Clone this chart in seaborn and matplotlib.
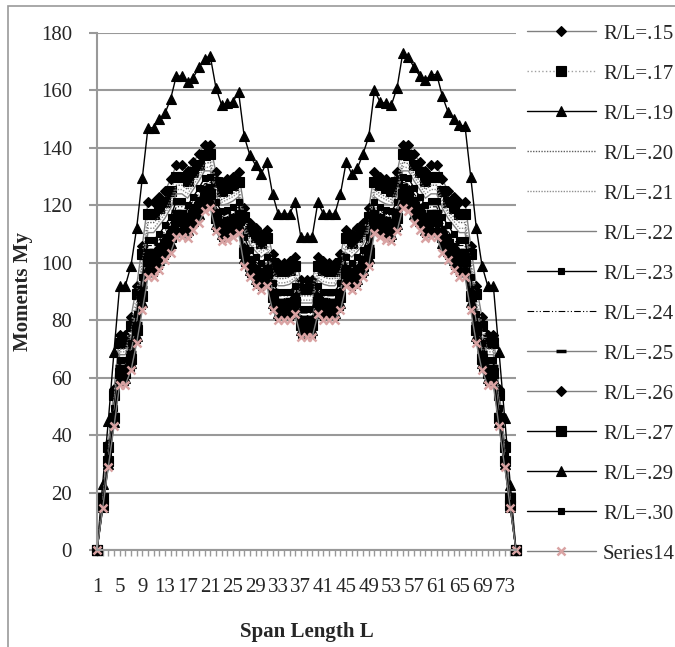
import pandas as pd
import seaborn as sns
import matplotlib.pyplot as plt
from matplotlib.patches import Rectangle


span = list(range(1, 76))

rl_15 = [0, 18.5, 37, 56, 75, 75, 81, 92, 106, 121, 121, 123, 125, 129, 134, 134, 132, 135, 138, 141, 141, 131.5, 128, 129, 130, 131.5, 119, 114, 112, 110, 111.5, 103, 100, 100, 100.5, 102, 94, 94,
         94, 102, 100.5, 100, 100, 103, 111.5, 110, 112, 114, 119, 131.5, 130, 129, 128, 131.5, 141, 141, 138, 135, 132, 134, 134, 129, 125, 123, 121, 121, 106, 92, 81, 75, 75, 56, 37, 18.5, 0]
rl_17 = [0, 18, 36, 54, 72, 72, 78, 89, 103, 117, 117, 119, 121, 125, 130, 130, 128.5, 131.5, 134, 137.5, 138, 128, 125, 126, 127, 128, 116, 111, 109, 107, 108.5, 100, 97, 97, 97.5, 99, 91, 91,
         91, 99, 97.5, 97, 97, 100, 108.5, 107, 109, 111, 116, 128, 127, 126, 125, 128, 138, 137.5, 134, 131.5, 128.5, 130, 130, 125, 121, 119, 117, 117, 103, 89, 78, 72, 72, 54, 36, 18, 0]
rl_19 = [0, 23, 45, 69, 92, 92, 99, 112, 129.5, 147, 147, 150, 152, 157, 165, 165, 163, 164.5, 168, 171, 172, 161, 155, 155.5, 156, 159.5, 144, 137.5, 134, 131, 135, 124, 117, 117, 117, 121, 109, 109,
         109, 121, 117, 117, 117, 124, 135, 131, 133, 138, 144, 160, 156, 155.5, 155, 161, 173, 171.5, 168, 165, 163.5, 165.5, 165.5, 158, 152.5, 150, 148, 147.5, 130, 112, 99, 92, 92, 69, 46, 22.5, 0]
rl_20 = [0, 17.5, 35, 52, 70, 70, 76, 86, 100, 114, 114, 116, 118, 122, 127, 127, 125.5, 128.5, 131, 134.5, 135, 126, 122, 123, 124, 125.5, 113.5, 108.5, 106.5, 104.5, 106, 97.5, 94.5, 94.5, 95, 96.5, 88.5, 88.5,
         88.5, 96.5, 95, 94.5, 94.5, 97.5, 106, 104.5, 106.5, 108.5, 113.5, 125.5, 124, 123, 122, 126, 135, 134.5, 131, 128.5, 125.5, 127, 127, 122, 118, 116, 114, 114, 100, 86, 76, 70, 70, 52, 35, 17.5, 0]
rl_21 = [0, 17, 34, 51.5, 69, 69, 74.5, 85, 98.5, 112, 112, 114.5, 117, 120.5, 125.5, 125.5, 124, 127, 130, 133, 133.5, 124.5, 121, 122, 123, 124.5, 112, 107.5, 105, 103.5, 105, 96.5, 93, 93, 93.5, 95, 87, 87,
         87, 95, 93.5, 93, 93, 96.5, 105, 103.5, 105, 107.5, 112, 124.5, 123, 122, 121, 124.5, 133.5, 133, 130, 127, 124, 125.5, 125.5, 120.5, 117, 114.5, 112, 112, 98.5, 85, 74.5, 69, 69, 51.5, 34, 17, 0]
rl_22 = [0, 17, 34, 51, 68, 68, 73.5, 84, 97, 110.5, 110.5, 113, 115.5, 119, 124, 124, 122.5, 125.5, 128.5, 132, 132, 123.5, 120, 120.5, 121.5, 123, 111, 106.5, 104, 102, 103.5, 95, 92, 92, 92.5, 94, 86, 86,
         86, 94, 92.5, 92, 92, 95, 103.5, 102, 104, 106.5, 111, 123, 121.5, 120.5, 120, 123.5, 132, 132, 128.5, 125.5, 122.5, 124, 124, 119, 115.5, 113, 110.5, 110.5, 97, 84, 73.5, 68, 68, 51, 34, 17, 0]
rl_23 = [0, 16.5, 33, 49.5, 66, 66, 72, 82, 95, 108, 108, 110, 113, 116, 121.5, 121.5, 120, 123, 126, 129.5, 130, 121, 118, 118.5, 119.5, 121, 109, 104.5, 102, 100, 102, 93, 90, 90, 90, 92, 84, 84,
         84, 92, 90, 90, 90, 93, 102, 100, 102, 104.5, 109, 121, 119.5, 118.5, 118, 121, 130, 129.5, 126, 123, 120, 121.5, 121.5, 116, 113, 110, 108, 108, 95, 82, 72, 66, 66, 49.5, 33, 16.5, 0]
rl_24 = [0, 16, 32.5, 48.5, 65, 65, 70.5, 80.5, 93, 106, 106, 108, 111, 114, 119.5, 119.5, 118.5, 121.5, 124, 127.5, 128, 119.5, 116, 117, 118, 119.5, 107.5, 103, 100.5, 98.5, 100, 91.5, 88.5, 88.5, 88.5, 90.5, 82.5, 82.5,
         82.5, 90.5, 88.5, 88.5, 88.5, 91.5, 100, 98.5, 100.5, 103, 107.5, 119.5, 118, 117, 116, 119.5, 128, 127.5, 124, 121.5, 118.5, 119.5, 119.5, 114, 111, 108, 106, 106, 93, 80.5, 70.5, 65, 65, 48.5, 32.5, 16, 0]
rl_25 = [0, 16, 32, 47.5, 64, 64, 69, 79, 91.5, 104.5, 104.5, 106.5, 109.5, 112.5, 118, 118, 117, 120, 122.5, 126.5, 127, 118.5, 115, 115.5, 116.5, 118, 106, 102, 99, 97.5, 99, 90.5, 87, 87, 87.5, 89, 81, 81,
         81, 89, 87.5, 87, 87, 90.5, 99, 97.5, 99, 102, 106, 118, 116.5, 115.5, 115, 118.5, 127, 126.5, 122.5, 120, 117, 118, 118, 112.5, 109.5, 106.5, 104.5, 104.5, 91.5, 79, 69, 64, 64, 47.5, 32, 16, 0]
rl_26 = [0, 15.5, 31.5, 47, 63, 63, 68, 78, 90, 103, 103, 105, 108, 111, 116.5, 116.5, 115.5, 118.5, 121, 125, 125.5, 117, 113.5, 114.5, 115.5, 117, 105, 100.5, 98, 96.5, 98, 89.5, 86, 86, 86, 88, 80, 80,
         80, 88, 86, 86, 86, 89.5, 98, 96.5, 98, 100.5, 105, 117, 115.5, 114.5, 113.5, 117, 125.5, 125, 121, 118.5, 115.5, 116.5, 116.5, 111, 108, 105, 103, 103, 90, 78, 68, 63, 63, 47, 31.5, 15.5, 0]
rl_27 = [0, 15.5, 31, 46, 61.5, 61.5, 66.5, 76.5, 88.5, 100.5, 100.5, 103, 106.5, 109, 114.5, 114.5, 113.5, 116.5, 119.5, 123, 124, 115.5, 112, 112.5, 113.5, 115, 103.5, 99, 96.5, 95, 96.5, 88, 84.5, 84.5, 84.5, 86.5, 78.5, 78.5,
         78.5, 86.5, 84.5, 84.5, 84.5, 88, 96.5, 95, 96.5, 99, 103.5, 115, 113.5, 112.5, 112, 115.5, 124, 123, 119.5, 116.5, 113.5, 114.5, 114.5, 109, 106.5, 103, 100.5, 100.5, 88.5, 76.5, 66.5, 61.5, 61.5, 46, 31, 15.5, 0]
rl_29 = [0, 15, 30, 44.5, 60, 60, 65, 74.5, 86.5, 98.5, 98.5, 101, 104, 107, 112, 112, 111.5, 114.5, 117, 121, 122, 113.5, 110, 110.5, 111.5, 113, 101.5, 97.5, 94.5, 93, 94.5, 86, 82.5, 82.5, 82.5, 84.5, 76.5, 76.5,
         76.5, 84.5, 82.5, 82.5, 82.5, 86, 94.5, 93, 94.5, 97.5, 101.5, 113, 111.5, 110.5, 110, 113.5, 122, 121, 117, 114.5, 111.5, 112, 112, 107, 104, 101, 98.5, 98.5, 86.5, 74.5, 65, 60, 60, 44.5, 30, 15, 0]
rl_30 = [0, 14.5, 29.5, 44, 58.5, 58.5, 63.5, 73, 85, 96.5, 96.5, 99, 102.5, 105, 110.5, 110.5, 110, 113, 115.5, 119.5, 120.5, 112, 108.5, 109.5, 110.5, 112, 100, 96, 93, 91.5, 93, 84.5, 81, 81, 81, 83, 75, 75,
         75, 83, 81, 81, 81, 84.5, 93, 91.5, 93, 96, 100, 112, 110.5, 109.5, 108.5, 112, 120.5, 119.5, 115.5, 113, 110, 110.5, 110.5, 105, 102.5, 99, 96.5, 96.5, 85, 73, 63.5, 58.5, 58.5, 44, 29.5, 14.5, 0]
series14 = [0, 14.5, 29, 43, 57.5, 57.5, 62.5, 72, 83.5, 95, 95, 97.5, 101, 103.5, 109, 109, 108.5, 111.5, 114, 118, 119, 111, 107.5, 108, 109, 110.5, 99, 95, 92, 90.5, 92, 83.5, 80, 80, 80, 82, 74, 74,
            74, 82, 80, 80, 80, 83.5, 92, 90.5, 92, 95, 99, 110.5, 109, 108, 107.5, 111, 119, 118, 114, 111.5, 108.5, 109, 109, 103.5, 101, 97.5, 95, 95, 83.5, 72, 62.5, 57.5, 57.5, 43, 29, 14.5, 0]

labels = ["R/L=.15", "R/L=.17", "R/L=.19", "R/L=.20", "R/L=.21", "R/L=.22", "R/L=.23",
          "R/L=.24", "R/L=.25", "R/L=.26", "R/L=.27", "R/L=.29", "R/L=.30", "Series14"]
values = [rl_15, rl_17, rl_19, rl_20, rl_21, rl_22, rl_23,
          rl_24, rl_25, rl_26, rl_27, rl_29, rl_30, series14]

gray = "#808080"
styles = [
    dict(color=gray, marker="D", markersize=5),
    dict(color="#a0a0a0", linestyle=":", marker="s", markersize=7.5),
    dict(color="black", marker="^", markersize=7.5),
    dict(color="#606060", linestyle=(0, (1, 1)), marker=None),
    dict(color="#909090", linestyle=(0, (1, 1)), marker=None),
    dict(color=gray, marker=None),
    dict(color="black", marker="s", markersize=5),
    dict(color="black", linestyle=(0, (6, 2, 1, 2, 1, 2)), linewidth=0.8, marker=None),
    dict(color=gray, marker="_", markersize=7, markeredgewidth=2.5),
    dict(color=gray, marker="D", markersize=5),
    dict(color="black", marker="s", markersize=7.5),
    dict(color="black", marker="^", markersize=7.5),
    dict(color="black", marker="s", markersize=5),
    dict(color=gray, marker="x", markersize=6, markeredgewidth=1.8,
         markeredgecolor="#d9a3a3", markerfacecolor="#d9a3a3"),
]

sns.set_style("white")
plt.rcParams["font.family"] = ["Liberation Serif", "DejaVu Serif"]

fig = plt.figure(figsize=(6.75, 6.47), dpi=100)
ax = fig.add_axes([97 / 675, 97 / 647, 419 / 675, 517 / 647])

for label, vals, st in zip(labels, values, styles):
    kw = dict(linewidth=1.0, markeredgecolor="black", markerfacecolor="black",
              markeredgewidth=0.8)
    kw.update(st)
    if kw.get("marker") is None:
        kw.pop("marker")
    df = pd.DataFrame({"span": span, "moment": vals})
    sns.lineplot(data=df, x="span", y="moment", ax=ax, label=label,
                 errorbar=None, clip_on=False, **kw)

ax.set_xlim(1, 75)
ax.set_ylim(0, 180)
ax.set_yticks(range(0, 181, 20))
ax.set_xticks(span)
ax.set_xticklabels([str(s) if (s - 1) % 4 == 0 else "" for s in span])

ax.yaxis.grid(True, color="#999999", linewidth=1.5)
ax.xaxis.grid(False)
ax.set_axisbelow(True)
for side in ["top", "right"]:
    ax.spines[side].set_visible(False)
ax.spines["left"].set_color("#999999")
ax.spines["left"].set_linewidth(1.5)
ax.spines["bottom"].set_color("#999999")
ax.spines["bottom"].set_linewidth(1.5)

ax.tick_params(axis="y", length=6, width=1.5, color="#999999", pad=12,
               labelsize=15, left=True)
ax.tick_params(axis="x", length=4, width=1, color="#999999", pad=16,
               labelsize=15, bottom=True)

ax.set_xlabel("Span Length L", fontsize=15, fontweight="bold")
ax.set_ylabel("Moments My", fontsize=15, fontweight="bold")
ax.xaxis.set_label_coords(0.5, -0.14)
ax.yaxis.set_label_coords(-0.152, 0.5)

ax.legend(loc="upper left", bbox_to_anchor=(527 / 675, 1 - 24 / 647),
          bbox_transform=fig.transFigure, frameon=False, fontsize=15,
          handlelength=3.3, handletextpad=0.35, labelspacing=0.98,
          borderpad=0, borderaxespad=0, numpoints=1)

fig.add_artist(Rectangle((8 / 675, -0.05), 1.2, 1.05 - 6 / 647,
                         transform=fig.transFigure, fill=False,
                         edgecolor="#999999", linewidth=1.2))

fig.savefig("out.png", dpi=100)
